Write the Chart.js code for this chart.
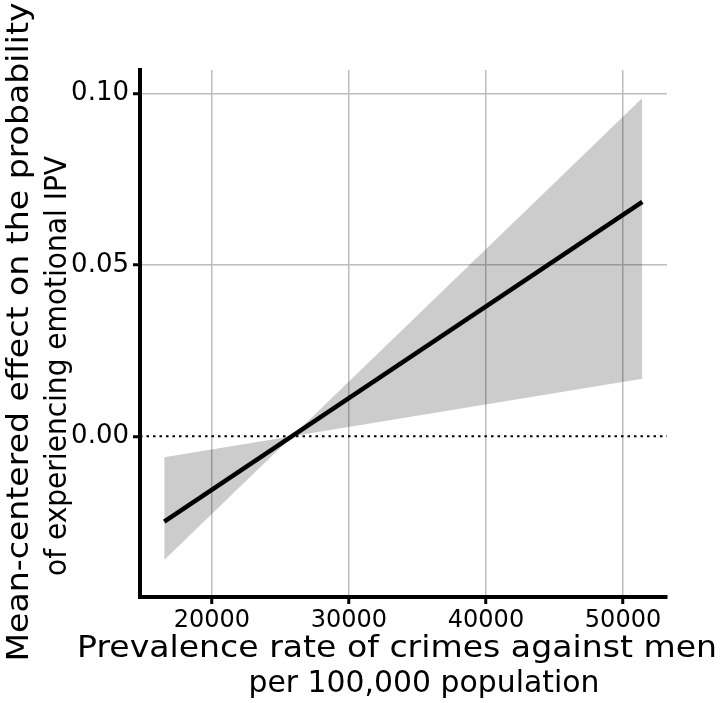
<!DOCTYPE html>
<html>
<head>
<meta charset="utf-8">
<script src="https://cdn.jsdelivr.net/npm/chart.js@4.4.1/dist/chart.umd.min.js"></script>
<style>
  html, body { margin: 0; padding: 0; background: #fff; }
  #wrap { width: 721px; height: 703px; }
</style>
</head>
<body>
<div id="wrap"><canvas id="effectChart" width="721" height="703"></canvas></div>
<script>
// data
const xEnds = [16518, 51409];            // crime prevalence range of the fitted line
const effect = [-0.0249, 0.0684];         // mean-centered effect
const ciBoundA = [-0.0061, 0.0168];       // first CI edge
const ciBoundB = [-0.0361, 0.0987];       // second CI edge
const xTicks = [20000, 30000, 40000, 50000];
const yTicks = [0.00, 0.05, 0.10];
const xRange = [14750, 53210];
const yRange = [-0.0469, 0.1069];
const xTitle = ['Prevalence rate of crimes against men', 'per 100,000 population'];
const yTitle = ['Mean-centered effect on the probability', 'of experiencing emotional IPV'];

const FONT = "'DejaVu Sans', sans-serif";

function pts(ys) {
    return xEnds.map((x, i) => ({ x: x, y: ys[i] }));
}

// axis titles drawn by hand so long lines are not squeezed to the chart area width
// each line: [center along the text, baseline offset, width the line spans]
const titleLayout = {
    x: [[397, 657, 640], [424, 692, 351]],
    y: [[332, 28, 659], [366, 66, 420]]
};

function drawLine(ctx, text, w) {
    const natural = ctx.measureText(text).width;
    ctx.scale(w / natural, 1);
    ctx.fillText(text, 0, 0);
}

const axisTitles = {
    id: 'axisTitles',
    afterDraw(chart) {
        const ctx = chart.ctx;
        ctx.save();
        ctx.fillStyle = '#000';
        ctx.font = '30px ' + FONT;
        ctx.textAlign = 'center';
        ctx.textBaseline = 'alphabetic';
        xTitle.forEach((t, i) => {
            const [cx, by, w] = titleLayout.x[i];
            ctx.save();
            ctx.translate(cx, by);
            drawLine(ctx, t, w);
            ctx.restore();
        });
        yTitle.forEach((t, i) => {
            const [cy, bx, w] = titleLayout.y[i];
            ctx.save();
            ctx.translate(bx, cy);
            ctx.rotate(-Math.PI / 2);
            drawLine(ctx, t, w);
            ctx.restore();
        });
        ctx.restore();
    }
};

const ctx = document.getElementById('effectChart').getContext('2d');

new Chart(ctx, {
    type: 'line',
    data: {
        datasets: [
            {
                label: 'ci A',
                data: pts(ciBoundA),
                borderWidth: 0,
                pointRadius: 0,
                fill: false
            },
            {
                label: 'ci B',
                data: pts(ciBoundB),
                borderWidth: 0,
                pointRadius: 0,
                backgroundColor: 'rgba(0,0,0,0.2)',
                fill: '-1'
            },
            {
                label: 'zero',
                data: xRange.map(x => ({ x: x, y: 0 })),
                borderColor: '#000',
                borderWidth: 2,
                borderDash: [2.5, 4],
                pointRadius: 0,
                fill: false
            },
            {
                label: 'effect',
                data: pts(effect),
                borderColor: '#000',
                borderWidth: 4.5,
                pointRadius: 0,
                fill: false
            }
        ]
    },
    plugins: [axisTitles],
    options: {
        responsive: false,
        animation: false,
        events: [],
        layout: { padding: { top: 70, right: 54, left: 0, bottom: 0 } },
        plugins: {
            legend: { display: false },
            tooltip: { enabled: false }
        },
        scales: {
            x: {
                type: 'linear',
                min: xRange[0],
                max: xRange[1],
                afterBuildTicks: s => { s.ticks = xTicks.map(v => ({ value: v })); },
                afterFit: s => { s.height = 106; },
                grid: {
                    color: '#bdbdbd',
                    lineWidth: 1.5,
                    tickColor: '#000',
                    tickWidth: 3,
                    tickLength: 7
                },
                border: { color: '#000', width: 4 },
                ticks: {
                    color: '#000',
                    padding: 2,
                    font: { family: FONT, size: 24 },
                    callback: v => String(v)
                },
                title: { display: false }
            },
            y: {
                type: 'linear',
                min: yRange[0],
                max: yRange[1],
                afterBuildTicks: s => { s.ticks = yTicks.map(v => ({ value: v })); },
                afterFit: s => { s.width = 140; },
                grid: {
                    color: c => (c.tick && c.tick.value === 0 ? 'rgba(0,0,0,0)' : '#bdbdbd'),
                    lineWidth: 1.5,
                    tickColor: '#000',
                    tickWidth: 3,
                    tickLength: 7
                },
                border: { color: '#000', width: 4 },
                ticks: {
                    color: '#000',
                    padding: 4,
                    font: { family: FONT, size: 26 },
                    callback: v => v.toFixed(2)
                },
                title: { display: false }
            }
        }
    }
});
</script>
</body>
</html>
